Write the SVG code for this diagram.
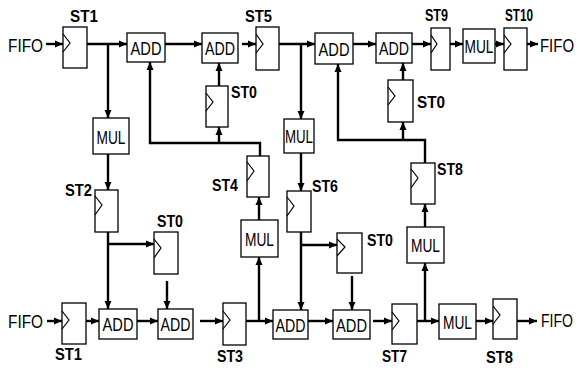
<svg xmlns="http://www.w3.org/2000/svg" width="586" height="370" viewBox="0 0 586 370">
<style>
.box{fill:#fff;stroke:#000;stroke-width:1.3}
.ck{fill:none;stroke:#000;stroke-width:1.2}
.c{fill:none;stroke:#000;stroke-width:2.4;marker-end:url(#a)}
.t{font-family:"Liberation Sans",Arial,sans-serif;font-size:18px;fill:#000}
.b{font-family:"Liberation Sans",Arial,sans-serif;font-size:19px;fill:#000;text-anchor:middle}
.s{font-family:"Liberation Sans",Arial,sans-serif;font-size:16px;font-weight:bold;fill:#000}
</style>
<defs>
<marker id="a" markerUnits="userSpaceOnUse" markerWidth="9" markerHeight="8" refX="8" refY="4" orient="auto">
<path d="M0,0.5 L8,4 L0,7.5 z" fill="#000"/>
</marker>
</defs>
<rect width="586" height="370" fill="#fff"/>

<g id="connectors">
<line class="c" x1="46" y1="44" x2="63" y2="44"/>
<line class="c" x1="87" y1="44" x2="127" y2="44"/>
<line class="c" x1="108" y1="44" x2="108" y2="118"/>
<line class="c" x1="165" y1="44" x2="202" y2="44"/>
<line class="c" x1="242" y1="44" x2="256" y2="44"/>
<line class="c" x1="279" y1="44" x2="315" y2="44"/>
<line class="c" x1="301" y1="44" x2="301" y2="119"/>
<line class="c" x1="353" y1="44" x2="376" y2="44"/>
<line class="c" x1="412" y1="44" x2="431" y2="44"/>
<line class="c" x1="450" y1="44" x2="463" y2="44"/>
<line class="c" x1="495" y1="44" x2="504" y2="44"/>
<line class="c" x1="527" y1="44" x2="538" y2="44"/>
<polyline class="c" points="260,156 260,143 150,143 150,62"/>
<line class="c" x1="219" y1="143" x2="219" y2="127"/>
<line class="c" x1="219" y1="86" x2="219" y2="63"/>
<polyline class="c" points="425,163 425,140 338,140 338,64"/>
<line class="c" x1="403" y1="140" x2="403" y2="122"/>
<line class="c" x1="403" y1="80" x2="403" y2="63"/>
<line class="c" x1="108" y1="154" x2="108" y2="190"/>
<line class="c" x1="108" y1="232" x2="108" y2="309"/>
<line class="c" x1="108" y1="244" x2="154" y2="244"/>
<line class="c" x1="167" y1="281" x2="167" y2="309"/>
<line class="c" x1="259" y1="321" x2="259" y2="257"/>
<line class="c" x1="259" y1="220" x2="259" y2="197"/>
<line class="c" x1="301" y1="153" x2="301" y2="191"/>
<line class="c" x1="301" y1="232" x2="301" y2="310"/>
<line class="c" x1="301" y1="245" x2="337" y2="245"/>
<line class="c" x1="352" y1="276" x2="352" y2="310"/>
<line class="c" x1="425" y1="321" x2="425" y2="263"/>
<line class="c" x1="425" y1="227" x2="425" y2="204"/>
<line class="c" x1="47" y1="321" x2="62" y2="321"/>
<line class="c" x1="86" y1="321" x2="99" y2="321"/>
<line class="c" x1="137" y1="321" x2="158" y2="321"/>
<line class="c" x1="200" y1="321" x2="223" y2="321"/>
<line class="c" x1="246" y1="321" x2="273" y2="321"/>
<line class="c" x1="308" y1="321" x2="333" y2="321"/>
<line class="c" x1="373" y1="321" x2="392" y2="321"/>
<line class="c" x1="417" y1="321" x2="439" y2="321"/>
<line class="c" x1="476" y1="321" x2="493" y2="321"/>
<line class="c" x1="517" y1="321" x2="537" y2="321"/>
</g>

<g id="fifo_in_top"><text class="t" x="8" y="52" textLength="35" lengthAdjust="spacingAndGlyphs">FIFO</text></g>
<g id="st1_top"><rect class="box" x="63" y="27" width="24" height="41"/><polyline class="ck" points="63,34 70,43 63,52"/><text class="s" x="70" y="22" textLength="28" lengthAdjust="spacingAndGlyphs">ST1</text></g>
<g id="add_t1"><rect class="box" x="127" y="33" width="38" height="29"/><text class="b" x="146" y="54.5" textLength="31" lengthAdjust="spacingAndGlyphs">ADD</text></g>
<g id="add_t2"><rect class="box" x="202" y="33" width="36" height="30"/><text class="b" x="220" y="55" textLength="30" lengthAdjust="spacingAndGlyphs">ADD</text></g>
<g id="st5"><rect class="box" x="256" y="27" width="23" height="43"/><polyline class="ck" points="256,34 263,44 256,53"/><text class="s" x="245" y="22" textLength="27" lengthAdjust="spacingAndGlyphs">ST5</text></g>
<g id="add_t3"><rect class="box" x="315" y="33" width="38" height="31"/><text class="b" x="334" y="55.5" textLength="31" lengthAdjust="spacingAndGlyphs">ADD</text></g>
<g id="add_t4"><rect class="box" x="376" y="33" width="36" height="30"/><text class="b" x="394" y="55" textLength="30" lengthAdjust="spacingAndGlyphs">ADD</text></g>
<g id="st9"><rect class="box" x="431" y="28" width="19" height="42"/><polyline class="ck" points="431,35 437,44 431,53"/><text class="s" x="425" y="21" textLength="23" lengthAdjust="spacingAndGlyphs">ST9</text></g>
<g id="mul_t"><rect class="box" x="463" y="29" width="32" height="34"/><text class="b" x="479" y="53" textLength="29" lengthAdjust="spacingAndGlyphs">MUL</text></g>
<g id="st10"><rect class="box" x="504" y="28" width="23" height="42"/><polyline class="ck" points="504,35 511,44 504,53"/><text class="s" x="505" y="21" textLength="28" lengthAdjust="spacingAndGlyphs">ST10</text></g>
<g id="fifo_out_top"><text class="t" x="540" y="52" textLength="34" lengthAdjust="spacingAndGlyphs">FIFO</text></g>

<g id="st0_ul"><rect class="box" x="206" y="86" width="22" height="41"/><polyline class="ck" points="206,93 213,102 206,111"/><text class="s" x="231" y="98" textLength="26" lengthAdjust="spacingAndGlyphs">ST0</text></g>
<g id="st0_ur"><rect class="box" x="388" y="80" width="25" height="42"/><polyline class="ck" points="388,87 395,96 388,105"/><text class="s" x="417" y="108" textLength="28" lengthAdjust="spacingAndGlyphs">ST0</text></g>
<g id="mul_l"><rect class="box" x="93" y="118" width="36" height="36"/><text class="b" x="111" y="143.5" textLength="29" lengthAdjust="spacingAndGlyphs">MUL</text></g>
<g id="mul_c"><rect class="box" x="284" y="119" width="30" height="34"/><text class="b" x="299" y="143" textLength="28" lengthAdjust="spacingAndGlyphs">MUL</text></g>
<g id="st2"><rect class="box" x="95" y="190" width="23" height="42"/><polyline class="ck" points="95,196 102,205 95,215"/><text class="s" x="65" y="196" textLength="27" lengthAdjust="spacingAndGlyphs">ST2</text></g>
<g id="st4"><rect class="box" x="247" y="156" width="22" height="41"/><polyline class="ck" points="247,162 254,171 247,181"/><text class="s" x="212" y="191" textLength="26" lengthAdjust="spacingAndGlyphs">ST4</text></g>
<g id="st6"><rect class="box" x="287" y="191" width="24" height="41"/><polyline class="ck" points="287,197 294,206 287,216"/><text class="s" x="312" y="192" textLength="26" lengthAdjust="spacingAndGlyphs">ST6</text></g>
<g id="st8_up"><rect class="box" x="411" y="163" width="24" height="41"/><polyline class="ck" points="411,169 418,178 411,188"/><text class="s" x="437" y="175" textLength="26" lengthAdjust="spacingAndGlyphs">ST8</text></g>
<g id="st0_ml"><rect class="box" x="154" y="232" width="24" height="42"/><polyline class="ck" points="154,239 161,248 154,258"/><text class="s" x="157" y="227" textLength="26" lengthAdjust="spacingAndGlyphs">ST0</text></g>
<g id="st0_mr"><rect class="box" x="337" y="233" width="25" height="40"/><polyline class="ck" points="337,239 345,247 337,256"/><text class="s" x="367" y="246" textLength="26" lengthAdjust="spacingAndGlyphs">ST0</text></g>
<g id="mul_m"><rect class="box" x="241" y="220" width="37" height="37"/><text class="b" x="259.5" y="245.5" textLength="29" lengthAdjust="spacingAndGlyphs">MUL</text></g>
<g id="mul_r"><rect class="box" x="407" y="227" width="37" height="36"/><text class="b" x="425.5" y="252" textLength="29" lengthAdjust="spacingAndGlyphs">MUL</text></g>

<g id="fifo_in_bot"><text class="t" x="8" y="328" textLength="35" lengthAdjust="spacingAndGlyphs">FIFO</text></g>
<g id="st1_bot"><rect class="box" x="62" y="303" width="24" height="41"/><polyline class="ck" points="62,311 69,320 62,329"/><text class="s" x="55" y="360" textLength="27" lengthAdjust="spacingAndGlyphs">ST1</text></g>
<g id="add_b1"><rect class="box" x="99" y="309" width="38" height="30"/><text class="b" x="118" y="331" textLength="31" lengthAdjust="spacingAndGlyphs">ADD</text></g>
<g id="add_b2"><rect class="box" x="158" y="309" width="35" height="30"/><text class="b" x="175.5" y="331" textLength="30" lengthAdjust="spacingAndGlyphs">ADD</text></g>
<g id="st3"><rect class="box" x="223" y="303" width="23" height="42"/><polyline class="ck" points="223,311 230,320 223,329"/><text class="s" x="217" y="362" textLength="26" lengthAdjust="spacingAndGlyphs">ST3</text></g>
<g id="add_b3"><rect class="box" x="273" y="310" width="35" height="29"/><text class="b" x="290.5" y="331.5" textLength="30" lengthAdjust="spacingAndGlyphs">ADD</text></g>
<g id="add_b4"><rect class="box" x="333" y="310" width="37" height="29"/><text class="b" x="351.5" y="331.5" textLength="31" lengthAdjust="spacingAndGlyphs">ADD</text></g>
<g id="st7"><rect class="box" x="392" y="304" width="25" height="40"/><polyline class="ck" points="392,312 399,321 392,330"/><text class="s" x="382" y="362" textLength="25" lengthAdjust="spacingAndGlyphs">ST7</text></g>
<g id="mul_b"><rect class="box" x="439" y="304" width="37" height="35"/><text class="b" x="457.5" y="328.5" textLength="29" lengthAdjust="spacingAndGlyphs">MUL</text></g>
<g id="st8_bot"><rect class="box" x="493" y="299" width="24" height="40"/><polyline class="ck" points="493,306 500,315 493,324"/><text class="s" x="486" y="363" textLength="27" lengthAdjust="spacingAndGlyphs">ST8</text></g>
<g id="fifo_out_bot"><text class="t" x="541" y="327" textLength="32" lengthAdjust="spacingAndGlyphs">FIFO</text></g>
</svg>
